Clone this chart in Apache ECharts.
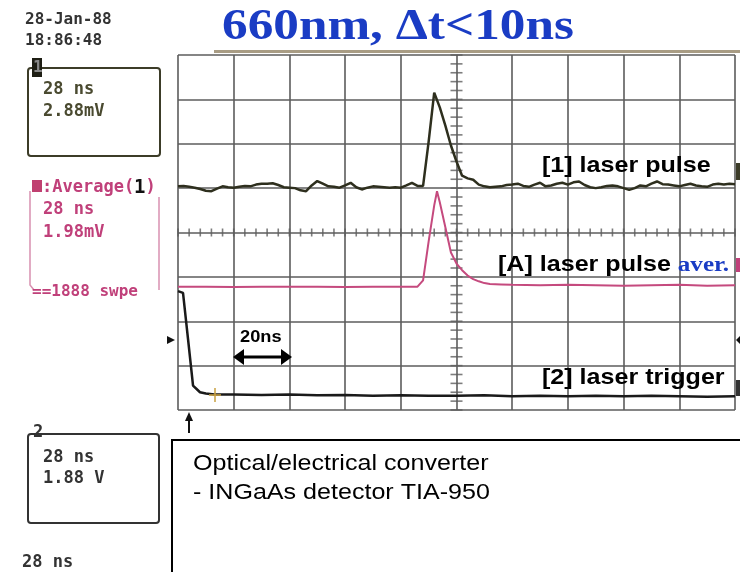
<!DOCTYPE html>
<html><head><meta charset="utf-8">
<script src="https://cdn.jsdelivr.net/npm/echarts@6/dist/echarts.min.js"></script>
<style>html,body{margin:0;padding:0;background:#fff}#c{width:740px;height:572px}</style>
</head><body><div id="c"></div>
<script>
// ---- data (time in ns, amplitude in screen divisions) ----
const pulseTime = [0,2,4,6,8,10,12,14,16,18,20,22,24,26,28,30,32,34,36,38,40,42,44,46,48,50,52,54,56,58,60,62,64,66,68,70,72,74,76,78,80,82,84,86,88,90,92,94,96,98,100,102,104,106,108,110,112,114,116,118,120,122,124,126,128,130,132,134,136,138,140,142,144,146,148,150,152,154,156,158,160,162,164,166,168,170,172,174,176,178,180,182,184,186,188,190,192,194,196,198,200];
const pulseValue = [1.04,1.05,1.03,1.01,0.98,0.94,0.93,0.99,1.04,1.02,1.01,1.03,1.05,1.04,1.08,1.10,1.10,1.11,1.07,1.02,1.01,1.00,0.95,0.93,1.06,1.16,1.10,1.04,1.03,1.01,1.06,1.12,1.02,0.97,1.01,1.04,1.03,1.02,1.01,1.02,1.01,1.06,1.12,1.05,1.05,2.05,3.15,2.82,2.41,1.96,1.60,1.28,1.22,1.19,1.08,1.04,1.02,1.03,1.04,1.07,1.08,1.10,1.05,1.03,1.08,1.12,1.04,1.06,1.10,1.12,1.08,1.13,1.15,1.07,1.02,1.00,1.02,1.05,1.06,1.04,1.00,0.96,1.00,1.06,1.04,1.10,1.15,1.09,1.08,1.06,1.04,1.07,1.10,1.06,1.04,1.03,1.08,1.10,1.08,1.10,1.09];

const averTime = [0,10,20,30,40,50,60,70,80,86,88,90,92,93,94,96,98,100,102,104,106,108,110,112,116,120,130,140,150,160,170,180,190,200];
const averValue = [-1.22,-1.22,-1.23,-1.22,-1.22,-1.22,-1.23,-1.22,-1.22,-1.22,-1.08,-0.20,0.61,0.93,0.68,0.12,-0.45,-0.70,-0.85,-0.97,-1.05,-1.10,-1.14,-1.16,-1.17,-1.18,-1.19,-1.18,-1.19,-1.20,-1.19,-1.18,-1.20,-1.19];

const trigTime = [0,1.8,3.6,5.4,7.9,10,13,20,30,40,50,60,70,80,90,100,110,120,130,140,150,160,170,180,190,200];
const trigValue = [-1.32,-1.36,-2.40,-3.45,-3.60,-3.63,-3.65,-3.65,-3.66,-3.65,-3.67,-3.66,-3.68,-3.67,-3.68,-3.68,-3.67,-3.69,-3.68,-3.69,-3.68,-3.69,-3.68,-3.69,-3.70,-3.69];

const xMin = 0, xMax = 200, xDiv = 20;   // 20 ns / div
const yMin = -4, yMax = 4, yDiv = 1;

// ---- build ----
const zip = (a, b) => a.map((t, i) => [t, b[i]]);
const hTicks = [], vTicks = [];
for (let k = 0; k <= 50; k++) hTicks.push([xMin + k * xDiv / 5, 0]);
for (let k = 0; k <= 40; k++) vTicks.push([(xMin + xMax) / 2, yMin + k * yDiv / 5]);

const mono = '"DejaVu Sans Mono", monospace';
const sans = '"Liberation Sans", Arial, sans-serif';
const serif = '"Liberation Serif", "Times New Roman", serif';
const SX = 1.14;

function txt(x, y, text, font, fill, extra) {
  return Object.assign({type: 'text', x: x, y: y, z: 100,
    style: {text: text, font: font, fill: fill, align: 'left', verticalAlign: 'middle'}}, extra || {});
}

const graphics = [
  // title
  txt(222, 28, '660nm, \u0394t<10ns', 'bold 44px ' + serif, '#1a3cc4', {scaleX: 1.165}),
  // tan top bar of screen
  {type: 'rect', shape: {x: 214, y: 50, width: 526, height: 3}, style: {fill: '#a89c84'}, z: 50},
  // date/time
  txt(25, 20, '28-Jan-88', 'bold 16px ' + mono, '#333'),
  txt(25, 41, '18:86:48', 'bold 16px ' + mono, '#333'),
  // channel 1 box
  {type: 'rect', shape: {x: 28, y: 68, width: 132, height: 88, r: 3}, style: {stroke: '#3c3c28', lineWidth: 2, fill: 'none'}, z: 50},
  {type: 'rect', shape: {x: 32, y: 58, width: 10, height: 19}, style: {fill: '#1e1e14'}, z: 60},
  txt(33, 68, '1', 'bold 16px ' + mono, '#888'),
  txt(43, 90, '28 ns', 'bold 17px ' + mono, '#4a4a30'),
  txt(43, 112, '2.88mV', 'bold 17px ' + mono, '#4a4a30'),
  // average A
  {type: 'rect', shape: {x: 32, y: 180, width: 10, height: 12}, style: {fill: '#c04070'}, z: 60},
  {type: 'text', x: 42, y: 188, z: 100, style: {
    text: '{a|:Average(}{b|1}{a|)}', align: 'left', verticalAlign: 'middle',
    rich: {a: {font: 'bold 17px ' + mono, fill: '#c0407a'}, b: {font: 'bold 19px ' + mono, fill: '#111'}}}},
  txt(43, 210, '28 ns', 'bold 17px ' + mono, '#c0407a'),
  txt(43, 233, '1.98mV', 'bold 17px ' + mono, '#c0407a'),
  txt(32, 292, '==1888 swpe', 'bold 16px ' + mono, '#c0407a'),
  {type: 'polyline', shape: {points: [[30, 191], [30, 285], [34, 290]]}, style: {stroke: '#d890b0', lineWidth: 1.5, fill: 'none'}, z: 50},
  {type: 'polyline', shape: {points: [[159, 197], [159, 290]]}, style: {stroke: '#d890b0', lineWidth: 1.5, fill: 'none'}, z: 50},
  // channel 2 box
  {type: 'rect', shape: {x: 28, y: 434, width: 131, height: 89, r: 3}, style: {stroke: '#333', lineWidth: 2, fill: 'none'}, z: 50},
  txt(33, 433, '2', 'bold 17px ' + mono, '#333'),
  txt(43, 458, '28 ns', 'bold 17px ' + mono, '#333'),
  txt(43, 479, '1.88 V', 'bold 17px ' + mono, '#333'),
  txt(22, 563, '28 ns', 'bold 17px ' + mono, '#333'),
  // note box
  {type: 'rect', shape: {x: 172, y: 440, width: 600, height: 200}, style: {stroke: '#000', lineWidth: 2, fill: '#fff'}, z: 90},
  txt(193, 464, 'Optical/electrical converter', '22px ' + sans, '#000', {scaleX: SX}),
  txt(193, 493, '- INGaAs detector TIA-950', '22px ' + sans, '#000', {scaleX: SX}),
  // trace labels
  txt(542, 166, '[1] laser pulse', 'bold 22px ' + sans, '#000', {scaleX: SX}),
  {type: 'text', x: 498, y: 265, z: 100, scaleX: SX, style: {
    text: '{a|[A] laser pulse }{b|aver.}', align: 'left', verticalAlign: 'middle',
    rich: {a: {font: 'bold 22px ' + sans, fill: '#000'}, b: {font: 'bold 22px ' + serif, fill: '#1a3cc4'}}}},
  txt(542, 378, '[2] laser trigger', 'bold 22px ' + sans, '#000', {scaleX: SX}),
  // 20ns marker
  txt(240, 338, '20ns', 'bold 16px ' + sans, '#000', {scaleX: SX}),
  {type: 'line', shape: {x1: 241, y1: 357, x2: 284, y2: 357}, style: {stroke: '#000', lineWidth: 3}, z: 60},
  {type: 'polygon', shape: {points: [[233, 357], [244, 349], [244, 365]]}, style: {fill: '#000'}, z: 60},
  {type: 'polygon', shape: {points: [[292, 357], [281, 349], [281, 365]]}, style: {fill: '#000'}, z: 60},
  // screen markers
  {type: 'polygon', shape: {points: [[167, 336], [175, 340], [167, 344]]}, style: {fill: '#111'}, z: 60},
  {type: 'line', shape: {x1: 189, y1: 416, x2: 189, y2: 433}, style: {stroke: '#111', lineWidth: 2}, z: 60},
  {type: 'polygon', shape: {points: [[185, 421], [189, 412], [193, 421]]}, style: {fill: '#111'}, z: 60},
  {type: 'rect', shape: {x: 736, y: 163, width: 4, height: 17}, style: {fill: '#3c3c28'}, z: 60},
  {type: 'rect', shape: {x: 736, y: 258, width: 4, height: 14}, style: {fill: '#c0407a'}, z: 60},
  {type: 'polygon', shape: {points: [[740, 336], [736, 340], [740, 344]]}, style: {fill: '#111'}, z: 60},
  {type: 'rect', shape: {x: 736, y: 380, width: 4, height: 16}, style: {fill: '#333'}, z: 60},
  // cursor crosses
  {type: 'line', shape: {x1: 209, y1: 395, x2: 221, y2: 395}, style: {stroke: '#c8a040', lineWidth: 1.5}, z: 60},
  {type: 'line', shape: {x1: 215, y1: 388, x2: 215, y2: 402}, style: {stroke: '#c8a040', lineWidth: 1.5}, z: 60}
];

const chart = echarts.init(document.getElementById('c'), null, {renderer: 'canvas'});
chart.setOption({
  animation: false,
  backgroundColor: '#fff',
  grid: {left: 178, top: 55, width: 557, height: 355, show: false},
  xAxis: {type: 'value', min: xMin, max: xMax, interval: xDiv,
    axisLine: {show: false}, axisTick: {show: false}, axisLabel: {show: false},
    splitLine: {show: true, lineStyle: {color: '#5c5c5c', width: 1.6}}},
  yAxis: {type: 'value', min: yMin, max: yMax, interval: yDiv,
    axisLine: {show: false}, axisTick: {show: false}, axisLabel: {show: false},
    splitLine: {show: true, lineStyle: {color: '#5c5c5c', width: 1.6}}},
  series: [
    {type: 'scatter', data: hTicks, symbol: 'rect', symbolSize: [1.6, 8], itemStyle: {color: '#5c5c5c'}, silent: true, z: 1},
    {type: 'scatter', data: vTicks, symbol: 'rect', symbolSize: [12, 1.6], itemStyle: {color: '#5c5c5c'}, silent: true, z: 1},
    {type: 'line', name: '[A] laser pulse aver.', data: zip(averTime, averValue), showSymbol: false,
      lineStyle: {color: '#c54a7e', width: 2}, z: 3},
    {type: 'line', name: '[1] laser pulse', data: zip(pulseTime, pulseValue), showSymbol: false,
      lineStyle: {color: '#2e2f1e', width: 2.5}, z: 4},
    {type: 'line', name: '[2] laser trigger', data: zip(trigTime, trigValue), showSymbol: false,
      lineStyle: {color: '#1a1a1a', width: 2.5}, z: 4}
  ],
  graphic: graphics
});
</script>
</body></html>
